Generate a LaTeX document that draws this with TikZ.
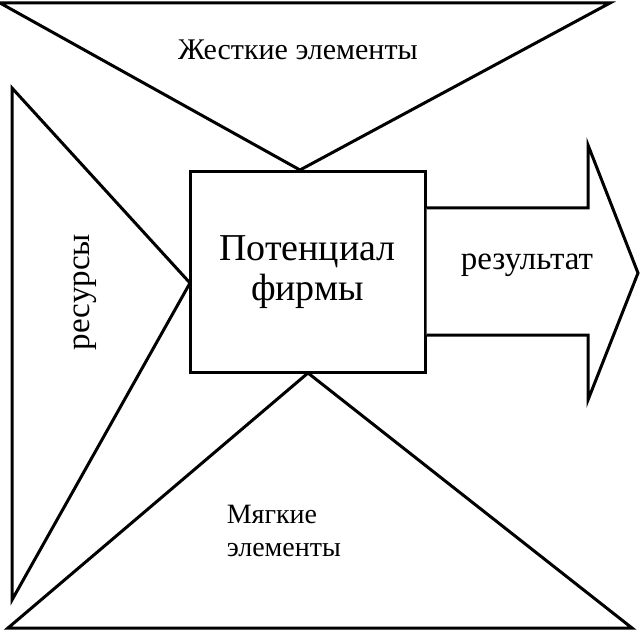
\documentclass[tikz,border=0pt]{standalone}
\usepackage{fontspec}
\setmainfont{Liberation Serif}
\newfontfamily\tnr{Liberation Serif}
\begin{document}
\begin{tikzpicture}[x=1pt,y=-1pt,line width=3pt,line join=miter]
\tikzset{lbl/.style={font=\tnr\fontsize{30}{34}\selectfont}}
\useasboundingbox (0,0) rectangle (640,631);
\fill[white] (0,0) rectangle (640,631);
\draw (0,3) -- (610,3) -- (300,170) -- cycle;
\draw (12,88) -- (12,600) -- (190,283) -- cycle;
\draw (8,628) -- (632,628) -- (308,373) -- cycle;
\node[draw,fill=white,minimum width=235pt,minimum height=200pt,inner sep=0pt] (box) at (307.5,272) {};
\node[font=\tnr\fontsize{38}{40}\selectfont,align=center] (pot) at (box.center) {Потенциал\\фирмы};
\draw[fill=white] (box.east |- 0,208) -- (588,208) -- (588,145) -- (638,273) -- (588,400) -- (588,335) -- (box.east |- 0,335);
\node[lbl,font=\tnr\fontsize{33}{36}\selectfont] (res) at (527,265) {результат};
\node[lbl,font=\tnr\fontsize{33}{36}\selectfont,rotate=90] (rs) at (85,292) {ресурсы};
\node[lbl] (hard) at (298,50) {Жесткие элементы};
\node[lbl,align=left,anchor=north west,font=\tnr\fontsize{28}{33}\selectfont] (soft) at (222,500) {Мягкие\\элементы};
\end{tikzpicture}
\end{document}
